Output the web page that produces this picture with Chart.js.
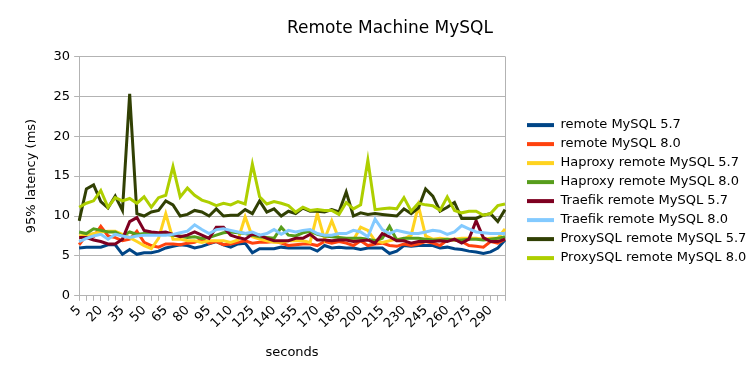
<!DOCTYPE html>
<html>
<head>
<meta charset="utf-8">
<script src="https://cdn.jsdelivr.net/npm/chart.js@4/dist/chart.umd.min.js"></script>
<style>
html,body{margin:0;padding:0;background:#fff;}
#wrap{width:756px;height:378px;position:relative;}
</style>
</head>
<body>
<div id="wrap"><canvas id="c" width="756" height="378"></canvas></div>
<script>
const seconds = [];
for (let s = 5; s <= 300; s += 5) seconds.push(String(s));

const remote57 = [6.0, 6.1, 6.1, 6.1, 6.4, 6.4, 5.2, 5.8, 5.2, 5.4, 5.4, 5.6, 6.0, 6.2, 6.4, 6.3, 6.0, 6.2, 6.5, 6.8, 6.4, 6.1, 6.5, 6.6, 5.4, 5.9, 5.9, 5.9, 6.1, 6.0, 6.0, 6.0, 6.0, 5.6, 6.3, 6.0, 6.1, 6.0, 6.0, 5.8, 6.0, 6.0, 6.0, 5.3, 5.6, 6.3, 6.2, 6.3, 6.3, 6.3, 6.0, 6.1, 5.9, 5.8, 5.6, 5.5, 5.3, 5.5, 6.0, 7.0];
const remote80 = [6.4, 7.6, 7.4, 8.7, 7.5, 7.3, 6.9, 7.1, 8.1, 6.7, 6.3, 6.1, 6.5, 6.5, 6.4, 6.6, 6.7, 7.1, 6.6, 6.8, 6.4, 6.5, 6.7, 6.9, 6.6, 6.7, 6.7, 6.8, 6.6, 6.3, 6.4, 6.5, 6.5, 6.3, 6.8, 6.6, 6.8, 6.6, 6.3, 6.9, 6.3, 6.5, 6.6, 6.3, 6.2, 6.5, 6.3, 6.5, 6.8, 6.6, 6.3, 7.0, 7.0, 6.8, 6.3, 6.2, 6.1, 6.8, 6.6, 7.1];
const haproxy57 = [7.5, 7.6, 7.8, 8.0, 8.1, 8.1, 7.7, 7.3, 6.8, 6.3, 5.9, 7.2, 10.3, 7.1, 7.1, 6.9, 6.9, 6.7, 6.9, 6.9, 6.9, 6.7, 7.0, 9.9, 7.4, 7.1, 6.9, 6.7, 6.7, 6.9, 6.9, 6.9, 6.7, 10.3, 7.1, 9.4, 7.1, 7.1, 7.0, 8.6, 8.2, 6.9, 6.7, 6.9, 7.1, 7.1, 7.6, 11.3, 7.5, 7.1, 7.2, 7.1, 7.1, 7.2, 7.2, 7.2, 7.1, 7.2, 7.2, 8.4];
const haproxy80 = [8.0, 7.8, 8.4, 8.2, 8.0, 8.0, 7.5, 8.0, 7.7, 7.8, 7.8, 7.7, 7.7, 7.6, 7.5, 7.3, 7.4, 7.2, 7.3, 7.6, 7.9, 8.0, 7.9, 7.8, 7.6, 7.4, 7.3, 7.2, 8.6, 7.6, 7.5, 7.9, 8.1, 7.7, 7.5, 7.4, 7.3, 7.2, 7.2, 7.2, 7.1, 6.9, 7.2, 8.7, 7.0, 7.2, 7.2, 7.2, 7.1, 7.0, 7.0, 7.1, 7.0, 7.0, 7.1, 7.1, 7.0, 7.1, 7.2, 7.4];
const traefik57 = [7.3, 7.3, 7.0, 6.8, 6.5, 6.5, 7.1, 9.3, 9.8, 8.2, 8.0, 7.9, 8.0, 7.7, 7.4, 7.6, 8.0, 7.6, 7.2, 8.6, 8.6, 7.6, 7.3, 7.1, 7.7, 7.6, 7.2, 6.9, 6.9, 6.9, 7.2, 7.2, 7.7, 7.0, 7.0, 6.9, 7.0, 7.0, 6.8, 6.9, 7.0, 6.6, 7.8, 7.4, 6.9, 6.9, 6.6, 6.8, 6.8, 6.8, 6.9, 6.8, 7.1, 6.6, 7.1, 9.4, 7.3, 6.8, 6.8, 7.1];
const traefik80 = [6.8, 7.2, 7.5, 7.7, 7.1, 7.7, 7.5, 7.3, 7.5, 7.6, 7.6, 7.6, 7.6, 7.7, 7.9, 8.1, 8.9, 8.3, 7.8, 8.3, 8.4, 8.2, 8.0, 7.8, 8.0, 7.6, 7.8, 8.3, 7.7, 8.2, 8.0, 8.2, 8.3, 7.8, 7.6, 7.6, 7.8, 7.8, 8.2, 8.0, 7.4, 9.6, 8.3, 7.8, 8.2, 8.0, 7.8, 7.8, 8.0, 8.2, 8.1, 7.7, 8.0, 8.8, 8.4, 8.0, 7.9, 7.8, 7.8, 7.8];
const proxysql57 = [9.4, 13.4, 13.9, 11.8, 11.0, 12.5, 10.7, 25.3, 10.3, 10.0, 10.5, 10.7, 11.9, 11.4, 10.0, 10.2, 10.7, 10.5, 10.0, 10.9, 10.0, 10.1, 10.1, 10.8, 10.3, 11.9, 10.5, 10.9, 10.0, 10.6, 10.3, 11.0, 10.6, 10.6, 10.5, 10.8, 10.5, 13.0, 10.0, 10.4, 10.2, 10.3, 10.2, 10.1, 10.0, 10.9, 10.3, 11.0, 13.4, 12.5, 10.6, 11.1, 11.7, 9.7, 9.7, 9.7, 10.1, 10.3, 9.3, 10.8];
const proxysql80 = [11.1, 11.6, 11.9, 13.2, 11.1, 12.3, 11.9, 12.2, 11.6, 12.4, 11.1, 12.3, 12.6, 16.2, 12.4, 13.5, 12.6, 12.0, 11.7, 11.3, 11.6, 11.4, 11.8, 11.5, 16.5, 12.4, 11.5, 11.8, 11.6, 11.3, 10.5, 11.1, 10.7, 10.8, 10.7, 10.7, 10.2, 11.7, 10.9, 11.4, 17.0, 10.8, 10.9, 11.0, 10.9, 12.3, 10.6, 11.6, 11.4, 11.3, 10.7, 12.4, 10.7, 10.4, 10.6, 10.6, 10.1, 10.3, 11.3, 11.5];

const seriesNames = ["remote MySQL 5.7", "remote MySQL 8.0", "Haproxy remote MySQL 5.7", "Haproxy remote MySQL 8.0", "Traefik remote MySQL 5.7", "Traefik remote MySQL 8.0", "ProxySQL remote MySQL 5.7", "ProxySQL remote MySQL 8.0"];
const seriesData = [remote57, remote80, haproxy57, haproxy80, traefik57, traefik80, proxysql57, proxysql80];
const seriesColors = ["#004586", "#ff420e", "#ffd320", "#579d1c", "#7e0021", "#83caff", "#314004", "#aecf00"];

const FONT = "'DejaVu Sans', sans-serif";
const GRID = "#b3b3b3";

const rightBorder = {
  id: 'rightBorder',
  beforeDatasetsDraw(chart) {
    const a = chart.chartArea, ctx = chart.ctx;
    ctx.save();
    ctx.strokeStyle = GRID;
    ctx.lineWidth = 1;
    ctx.beginPath();
    ctx.moveTo(Math.round(a.right) + 0.5, a.top);
    ctx.lineTo(Math.round(a.right) + 0.5, a.bottom);
    ctx.stroke();
    ctx.restore();
  }
};

new Chart(document.getElementById('c'), {
  type: 'line',
  data: {
    labels: seconds,
    datasets: seriesData.map((d, i) => ({
      label: seriesNames[i],
      data: d,
      borderColor: seriesColors[i],
      backgroundColor: seriesColors[i],
      borderWidth: 3,
      pointRadius: 0,
      tension: 0,
      order: seriesData.length - 1 - i
    }))
  },
  options: {
    responsive: false,
    animation: false,
    devicePixelRatio: 1,
    layout: { padding: { left: 24, right: 0, top: 0, bottom: 18 } },
    plugins: {
      title: {
        display: true,
        text: 'Remote Machine MySQL',
        color: '#000',
        font: { family: FONT, size: 17, weight: 'normal' },
        padding: { top: 18, bottom: 18 }
      },
      legend: {
        position: 'right',
        maxWidth: 235,
        title: { display: true, text: ' ', font: { family: FONT, size: 16 }, padding: 2 },
        labels: {
          color: '#000',
          font: { family: FONT, size: 13 },
          boxWidth: 27,
          boxHeight: 4,
          padding: 6,
          generateLabels: (chart) => Chart.defaults.plugins.legend.labels.generateLabels(chart).map(l => Object.assign(l, { lineWidth: 0 })),
          sort: (a, b) => a.datasetIndex - b.datasetIndex
        }
      },
      tooltip: { enabled: false }
    },
    scales: {
      x: {
        type: 'category',
        grid: { drawOnChartArea: false, drawTicks: true, tickLength: 5, color: GRID },
        border: { color: GRID },
        ticks: {
          autoSkip: false,
          maxRotation: 45,
          minRotation: 45,
          color: '#000',
          font: { family: FONT, size: 13 },
          padding: 2,
          callback: function (v, i) { return i % 3 === 0 ? this.getLabelForValue(v) : ''; }
        },
        title: { display: true, text: 'seconds', color: '#000', font: { family: FONT, size: 13 }, padding: { top: 11, bottom: 0 } }
      },
      y: {
        min: 0,
        max: 30,
        grid: { color: GRID, tickLength: 5 },
        border: { color: GRID },
        ticks: { stepSize: 5, color: '#000', font: { family: FONT, size: 13 }, padding: 4 },
        title: { display: true, text: '95% latency (ms)', color: '#000', font: { family: FONT, size: 13 }, padding: { top: 0, bottom: 10 } }
      },
      gap: {
        type: 'linear',
        position: 'right',
        display: true,
        grid: { drawOnChartArea: false, drawTicks: false },
        border: { display: false },
        ticks: { display: false },
        afterFit(s) { s.width = 16; }
      }
    }
  },
  plugins: [rightBorder]
});
</script>
</body>
</html>
